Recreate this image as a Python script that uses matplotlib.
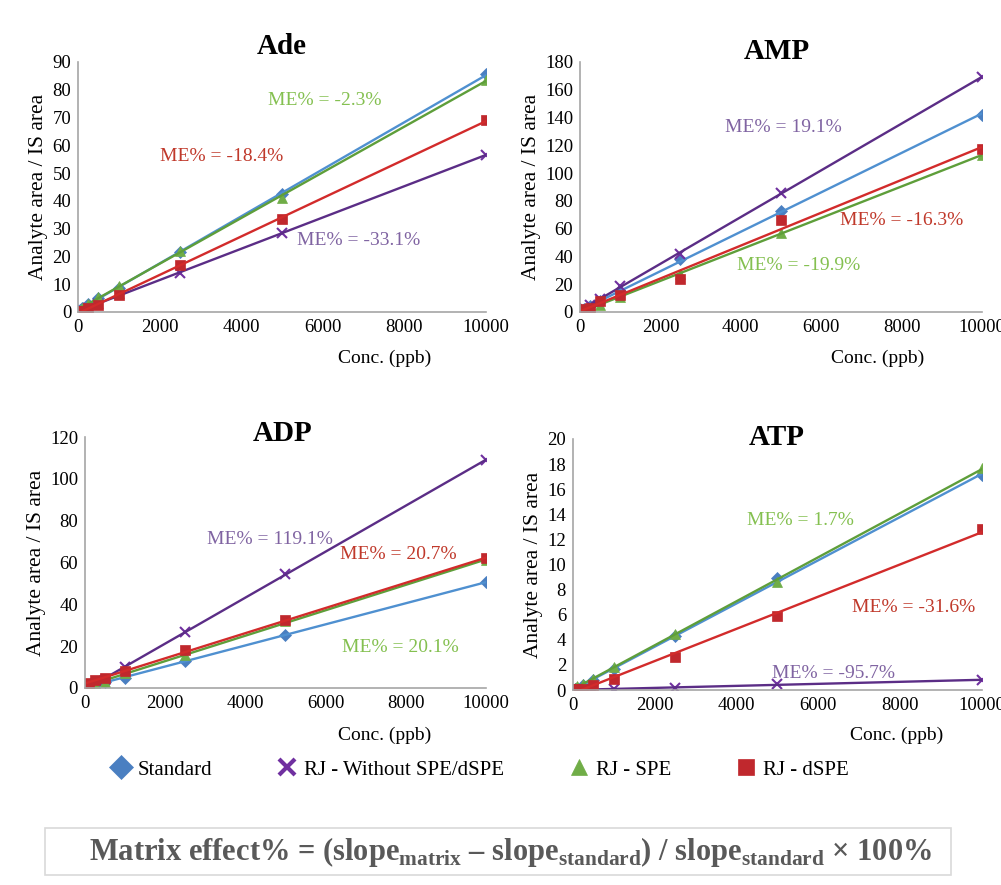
import matplotlib.pyplot as plt
from matplotlib.lines import Line2D
from matplotlib.patches import Rectangle
import numpy as np

plt.rcParams['font.family'] = ['Liberation Serif', 'DejaVu Serif']
plt.rcParams['mathtext.fontset'] = 'custom'
plt.rcParams['mathtext.rm'] = 'Liberation Serif:bold'
plt.rcParams['mathtext.bf'] = 'Liberation Serif:bold'

conc = [50, 100, 250, 500, 1000, 2500, 5000, 10000]

# Ade
ade_std = [0.8, 1.5, 3.0, 5.0, 8.8, 21.5, 42.5, 85.5]
ade_wo = [0.3, 0.8, 1.5, 3.0, 6.5, 14.0, 28.5, 56.5]
ade_spe = [0.8, 1.5, 3.0, 5.5, 9.5, 22.0, 41.0, 83.5]
ade_dspe = [0.2, 0.5, 1.5, 2.5, 6.0, 17.0, 33.5, 69.0]
# AMP
amp_std = [1.0, 2.0, 4.0, 8.0, 15.0, 38.0, 73.0, 142.0]
amp_wo = [1.5, 3.0, 5.0, 9.0, 19.0, 42.0, 86.0, 169.0]
amp_spe = [0.5, 1.0, 3.0, 5.0, 11.0, 27.0, 57.0, 113.0]
amp_dspe = [1.0, 2.0, 3.0, 8.0, 12.0, 24.0, 66.0, 117.0]
# ADP
adp_std = [0.3, 0.5, 1.5, 3.0, 5.0, 13.0, 25.5, 50.5]
adp_wo = [0.2, 0.5, 2.0, 4.0, 10.0, 27.0, 54.5, 109.0]
adp_spe = [1.0, 1.5, 2.0, 3.0, 7.0, 16.0, 32.0, 61.0]
adp_dspe = [2.0, 2.5, 4.0, 5.0, 8.0, 18.0, 32.5, 62.0]
# ATP
atp_std = [0.1, 0.2, 0.4, 0.8, 1.7, 4.3, 8.9, 17.1]
atp_wo = [0.01, 0.01, 0.02, 0.05, 0.1, 0.2, 0.45, 0.8]
atp_spe = [0.2, 0.3, 0.5, 0.9, 1.8, 4.5, 8.6, 17.7]
atp_dspe = [0.05, 0.1, 0.1, 0.4, 0.9, 2.6, 5.9, 12.8]

titles = ['Ade', 'AMP', 'ADP', 'ATP']
series = [
    [ade_std, ade_wo, ade_spe, ade_dspe],
    [amp_std, amp_wo, amp_spe, amp_dspe],
    [adp_std, adp_wo, adp_spe, adp_dspe],
    [atp_std, atp_wo, atp_spe, atp_dspe],
]
ymax = [90, 180, 120, 20]
ystep = [10, 20, 20, 2]

# ME% labels: (text, which series, x, y)
me_labels = [
    [('ME% = -2.3%', 2, 4657, 76.3), ('ME% = -18.4%', 3, 2010, 55.8), ('ME% = -33.1%', 1, 5368, 25.9)],
    [('ME% = 19.1%', 1, 3607, 133), ('ME% = -16.3%', 3, 6468, 66), ('ME% = -19.9%', 2, 3905, 33.8)],
    [('ME% = 119.1%', 1, 3042, 70.8), ('ME% = 20.7%', 3, 6359, 63.6), ('ME% = 20.1%', 2, 6409, 19.6)],
    [('ME% = 1.7%', 2, 4254, 13.5), ('ME% = -31.6%', 3, 6822, 6.6), ('ME% = -95.7%', 1, 4866, 1.35)],
]

names = ['Standard', 'RJ - Without SPE/dSPE', 'RJ - SPE', 'RJ - dSPE']
marker_colors = ['#4a7fc1', '#7030a0', '#70ad47', '#c0282d']
line_colors = ['#4f90d0', '#5b2d86', '#5e9e3a', '#d22b2b']
text_colors = ['#4a7fc1', '#8064a2', '#84c050', '#c0392b']
markers = ['D', 'x', '^', 's']
msizes = [6.5, 7.5, 7.5, 7.5]

positions = [
    [0.078, 0.6475, 0.4075, 0.2825],
    [0.5794, 0.6475, 0.4016, 0.2825],
    [0.0849, 0.2226, 0.4006, 0.2836],
    [0.5724, 0.2203, 0.4086, 0.2837],
]
title_pos = [(0.5, 1.06), (0.49, 1.04), (0.494, 1.015), (0.499, 1.005)]
conc_pos = [(0.752, -0.184), (0.741, -0.184), (0.748, -0.187), (0.792, -0.179)]

fig = plt.figure(figsize=(10.01, 8.85), dpi=100)

for i in range(4):
    ax = fig.add_axes(positions[i])
    x = np.array(conc)
    for j in range(4):
        y = np.array(series[i][j])
        k, b = np.polyfit(x, y, 1)
        ax.plot(x, y, linestyle='none', marker=markers[j], color=marker_colors[j],
                markersize=msizes[j], markeredgewidth=1.5 if markers[j] == 'x' else 0.5)
        ax.plot([x[0], x[-1]], [k * x[0] + b, k * x[-1] + b], color=line_colors[j], linewidth=1.7)
    ax.set_xlim(0, 10000)
    ax.set_ylim(0, ymax[i])
    ax.set_xticks(range(0, 10001, 2000))
    ax.set_yticks(range(0, ymax[i] + 1, ystep[i]))
    ax.tick_params(length=0, labelsize=13.5, pad=5)
    for s in ['top', 'right']:
        ax.spines[s].set_visible(False)
    for s in ['left', 'bottom']:
        ax.spines[s].set_color('#a6a6a6')
        ax.spines[s].set_linewidth(1.2)
    ax.set_ylabel('Analyte area / IS area', fontsize=15.5, labelpad=3)
    ax.text(title_pos[i][0], title_pos[i][1], titles[i], transform=ax.transAxes,
            ha='center', va='center', fontsize=21, fontweight='bold')
    ax.text(conc_pos[i][0], conc_pos[i][1], 'Conc. (ppb)', transform=ax.transAxes,
            ha='center', va='center', fontsize=14)
    for txt, j, tx, ty in me_labels[i]:
        ax.text(tx, ty, txt, ha='left', va='center', fontsize=14, color=text_colors[j])
    for lab in ax.get_xticklabels() + ax.get_yticklabels():
        lab.set_clip_on(False)

handles = [Line2D([], [], linestyle='none', marker=markers[j], color=marker_colors[j],
                  markersize=12, markeredgewidth=3 if markers[j] == 'x' else 0.5)
           for j in range(4)]
fig.legend(handles, names, loc='center', bbox_to_anchor=(0.478, 0.130), ncol=4,
           frameon=False, fontsize=15, handletextpad=0.2, columnspacing=3.0,
           handlelength=1.2)

fig.patches.append(Rectangle((0.045, 0.011), 0.905, 0.053, transform=fig.transFigure,
                             facecolor='white', edgecolor='#d9d9d9', linewidth=1.2))
fig.text(0.51, 0.0375,
         r'Matrix effect% = (slope$_{\mathrm{matrix}}$ – slope$_{\mathrm{standard}}$) / '
         r'slope$_{\mathrm{standard}}$ × 100%',
         ha='center', va='center', fontsize=22, fontweight='bold', color='#595959')

fig.savefig('out.png', dpi=100)
